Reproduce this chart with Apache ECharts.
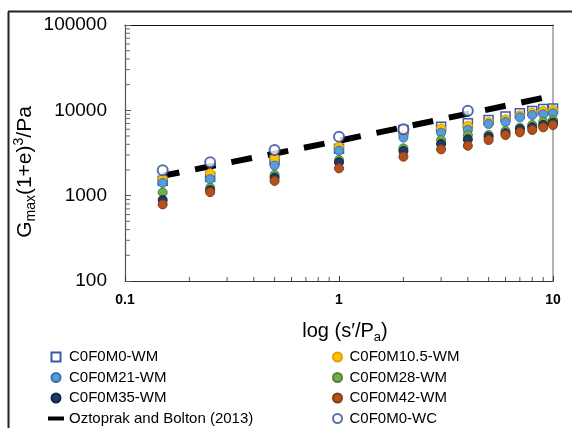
<!DOCTYPE html>
<html>
<head>
<meta charset="utf-8">
<script src="https://cdn.jsdelivr.net/npm/echarts@6/dist/echarts.min.js"></script>
<style>html,body{margin:0;padding:0;background:#fff;}#c{width:572px;height:428px;}</style>
</head>
<body>
<div id="c"></div>
<script>
// ---- data ----
const stressWM = [0.15, 0.25, 0.5, 1, 2, 3, 4, 5, 6, 7, 8, 9, 10];
const stressWC = [0.15, 0.25, 0.5, 1, 2, 4];
const gM0WM   = [1500, 1670, 2620, 3550, 5900, 6430, 7050, 7700, 8440, 9230, 9820, 10370, 10540];
const gM105WM = [1570, 1830, 2760, 3750, 5140, 6150, 6610, 7300, 7850, 8750, 9380, 9820, 10090];
const gM21WM  = [1410, 1560, 2250, 3370, 4790, 5470, 5890, 6920, 7300, 8280, 8810, 8980, 9230];
const gM28WM  = [1090, 1240, 1750, 2620, 3590, 4490, 5140, 5140, 5730, 6270, 6730, 7360, 7710];
const gM35WM  = [890, 1160, 1630, 2460, 3340, 4030, 4570, 4910, 5380, 6000, 6320, 6730, 7160];
const gM42WM  = [790, 1100, 1490, 2090, 2860, 3490, 3850, 4490, 5140, 5540, 5890, 6320, 6730];
const gM0WC   = [1980, 2460, 3430, 4910, 5990, 9910];
const oztoprakX = [0.15, 1, 10];
const oztoprakY = [1710, 4400, 14800];
const xTickLabels = ['0.1', '1', '10'];
const yTickLabels = ['100', '1000', '10000', '100000'];
const seriesNames = ['C0F0M0-WM', 'C0F0M10.5-WM', 'C0F0M21-WM', 'C0F0M28-WM', 'C0F0M35-WM', 'C0F0M42-WM', 'Oztoprak and Bolton (2013)', 'C0F0M0-WC'];

// minor tick values (2..9 of every decade)
const xMinor = [], yMinor = [];
[0.1, 1].forEach(d => { for (let m = 2; m <= 9; m++) xMinor.push(+(d * m).toFixed(3)); });
[100, 1000, 10000].forEach(d => { for (let m = 2; m <= 9; m++) yMinor.push(d * m); });

const FONT = 'Liberation Sans, Arial, sans-serif';
const zip = (xs, ys) => xs.map((x, i) => [x, ys[i]]);

function scat(name, ys, xs, symbol, size, fill, border, bw, z) {
  return {
    name, type: 'scatter', data: zip(xs, ys), symbol, symbolSize: size, z,
    itemStyle: { color: fill, borderColor: border, borderWidth: bw, opacity: 1 },
    emphasis: { disabled: true }
  };
}

const legendCommon = {
  orient: 'vertical', itemGap: 5.5, itemHeight: 9, padding: 0, height: 90,
  textStyle: { fontSize: 15, color: '#000', lineHeight: 15, fontFamily: FONT },
  selectedMode: false
};

const chart = echarts.init(document.getElementById('c'), null, { renderer: 'canvas' });
const option = {
  backgroundColor: '#fff',
  animation: false,
  textStyle: { fontFamily: FONT },
  grid: { left: 125, top: 25, right: 19, bottom: 147 },
  xAxis: [{
    type: 'log', logBase: 10, min: 0.1, max: 10,
    axisLine: { lineStyle: { color: '#333', width: 1.2 } },
    axisTick: { inside: true, length: 5, lineStyle: { color: '#333' } },
    axisLabel: { color: '#000', fontSize: 14, fontWeight: 'bold', margin: 12, fontFamily: FONT,
      formatter: v => xTickLabels.find(t => Math.abs(parseFloat(t) - v) < 1e-9) || '' },
    splitLine: { show: false }
  }, {
    type: 'log', logBase: 10, min: 0.1, max: 10, position: 'top',
    axisLine: { lineStyle: { color: '#111', width: 1.2 } },
    axisTick: { show: false }, axisLabel: { show: false }, splitLine: { show: false }
  }],
  yAxis: [{
    type: 'log', logBase: 10, min: 100, max: 100000,
    axisLine: { show: true, lineStyle: { color: '#555', width: 1.2 } },
    axisTick: { show: true, inside: true, length: 6, lineStyle: { color: '#555' } },
    axisLabel: { color: '#000', fontSize: 19, margin: 18, fontFamily: FONT,
      formatter: v => yTickLabels.find(t => Math.abs(parseFloat(t) - v) < 1e-6) || '' },
    splitLine: { show: false }
  }, {
    type: 'log', logBase: 10, min: 100, max: 100000, position: 'right',
    axisLine: { show: true, lineStyle: { color: '#999', width: 1.5 } },
    axisTick: { show: false }, axisLabel: { show: false }, splitLine: { show: false }
  }],
  legend: [Object.assign({}, legendCommon, {
    left: 48, top: 349.5, itemWidth: 16,
    data: [
      { name: seriesNames[0], icon: 'path://M0,0 H10 V10 H0 Z' },
      { name: seriesNames[2] },
      { name: seriesNames[4] },
      { name: seriesNames[6], icon: 'path://M0,0 H20 V5 H0 Z', itemStyle: { color: '#000' } }
    ]
  }), Object.assign({}, legendCommon, {
    left: 332, top: 349.5, itemWidth: 14,
    data: [seriesNames[1], seriesNames[3], seriesNames[5], seriesNames[7]]
  })],
  graphic: [
    { type: 'line', shape: { x1: 8.5, y1: 11.5, x2: 8.5, y2: 428 }, style: { stroke: '#222', lineWidth: 2 } },
    { type: 'line', shape: { x1: 8, y1: 11.5, x2: 572, y2: 11.5 }, style: { stroke: '#222', lineWidth: 2 } },
    { type: 'text', x: 25, y: 172, rotation: Math.PI / 2,
      style: {
        text: '{a|G}{b|max}{a|(1+e)}{c|3}{a|/Pa}', align: 'center', verticalAlign: 'middle',
        rich: {
          a: { fontSize: 21, fontFamily: FONT, fill: '#000', lineHeight: 26 },
          b: { fontSize: 14, fontFamily: FONT, fill: '#000', lineHeight: 12, verticalAlign: 'bottom' },
          c: { fontSize: 14, fontFamily: FONT, fill: '#000', lineHeight: 12, verticalAlign: 'top' }
        }
      } },
    { type: 'text', x: 345, y: 331,
      style: {
        text: '{a|log (s\u2032/P}{b|a}{a|)}', align: 'center', verticalAlign: 'middle',
        rich: {
          a: { fontSize: 20, fontFamily: FONT, fill: '#000', lineHeight: 26 },
          b: { fontSize: 13, fontFamily: FONT, fill: '#000', lineHeight: 12, verticalAlign: 'bottom' }
        }
      } }
  ],
  series: [
    {
      name: 'xMinorTicks', type: 'custom', silent: true, z: 1,
      data: xMinor.map(v => [v, 100]),
      renderItem: (params, api) => {
        const p = api.coord([api.value(0), api.value(1)]);
        return { type: 'line', shape: { x1: p[0], y1: p[1], x2: p[0], y2: p[1] - 4 }, style: { stroke: '#555', lineWidth: 1 } };
      }
    },
    {
      name: 'yMinorTicks', type: 'custom', silent: true, z: 1,
      data: yMinor.map(v => [0.1, v]),
      renderItem: (params, api) => {
        const p = api.coord([api.value(0), api.value(1)]);
        return { type: 'line', shape: { x1: p[0], y1: p[1], x2: p[0] + 5, y2: p[1] }, style: { stroke: '#666', lineWidth: 1 } };
      }
    },
    {
      name: seriesNames[6], type: 'line', data: zip(oztoprakX, oztoprakY), symbol: 'none', z: 2,
      itemStyle: { color: '#000' },
      lineStyle: { color: '#000', width: 6, type: [21, 16], dashOffset: 4, cap: 'butt' },
      emphasis: { disabled: true }
    },
    scat(seriesNames[0], gM0WM, stressWM, 'rect', 9, '#fff', '#3B5BA5', 1.5, 3),
    scat(seriesNames[1], gM105WM, stressWM, 'circle', 9, '#FFC000', '#E0A000', 1, 4),
    scat(seriesNames[2], gM21WM, stressWM, 'circle', 9, '#5B9BD5', '#2E75B6', 1, 5),
    scat(seriesNames[3], gM28WM, stressWM, 'circle', 9, '#70AD47', '#548235', 1, 6),
    scat(seriesNames[4], gM35WM, stressWM, 'circle', 9, '#203864', '#14254A', 1, 7),
    scat(seriesNames[5], gM42WM, stressWM, 'circle', 9, '#B4501E', '#843C0C', 1, 8),
    scat(seriesNames[7], gM0WC, stressWC, 'emptyCircle', 10, '#fff', '#2F4B9A', 1.5, 9)
  ]
};
option.series[9].itemStyle = { color: '#2F4B9A', borderColor: '#2F4B9A', borderWidth: 1.5 };
chart.setOption(option);
</script>
</body>
</html>
